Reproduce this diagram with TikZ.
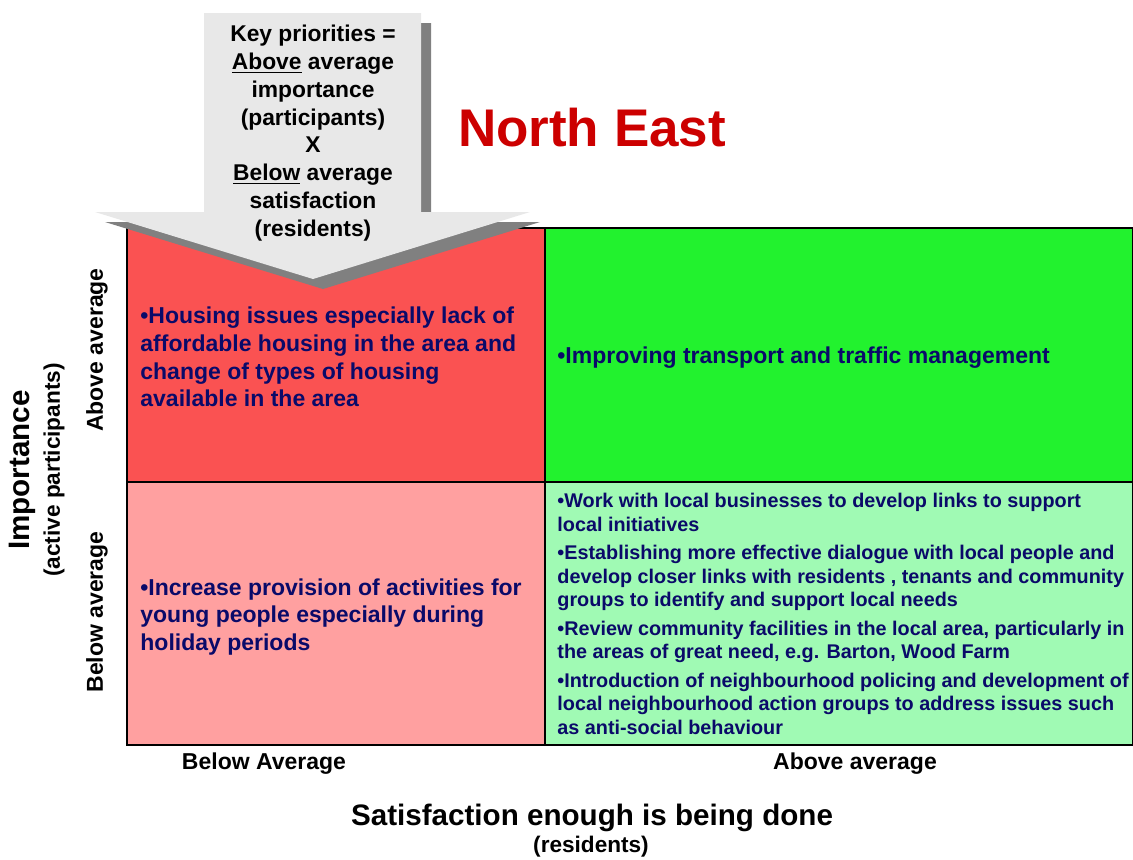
\documentclass[tikz,border=0pt]{standalone}
\usepackage{fontspec}
\setmainfont{Liberation Sans}
\usetikzlibrary{positioning}

\definecolor{hotred}{RGB}{250,82,82}
\definecolor{palered}{RGB}{255,160,160}
\definecolor{hotgreen}{RGB}{34,242,46}
\definecolor{palegreen}{RGB}{160,250,180}
\definecolor{itemblue}{RGB}{10,10,105}
\definecolor{titlered}{RGB}{204,0,0}
\definecolor{keygray}{RGB}{232,232,232}
\definecolor{keyshadow}{RGB}{128,128,128}

\tikzset {
  quad/.style = {
    draw = black,
    line width = 0.75pt,
    rectangle,
    inner sep = 0,
    outer sep = 0
  },
  % text inside a quadrant
  item/.style = {
    text = itemblue,
    align = left,
    anchor = west,
    inner sep = 0,
    font = \bfseries\fontsize{11.5}{13.8}\selectfont
  },
  smallitem/.style = {
    item,
    font = \bfseries\fontsize{9.9}{11.8}\selectfont
  },
  % text of the key arrow
  keytext/.style = {
    align = center,
    inner sep = 0,
    font = \bfseries\fontsize{11.4}{13.9}\selectfont
  },
  title/.style = {
    text = titlered,
    inner sep = 0,
    font = \bfseries\fontsize{26.5}{30}\selectfont
  },
  % axis labels
  axis/.style = {
    inner sep = 0,
    font = \bfseries\fontsize{11.5}{13.8}\selectfont
  },
  axistitle/.style = {
    axis,
    font = \bfseries\fontsize{14.8}{17}\selectfont
  },
  axisnote/.style = {
    axis,
    font = \bfseries\fontsize{11.3}{13}\selectfont
  },
  node distance = 0pt
}

\begin{document}
\begin{tikzpicture}[x=0.5pt, y=-0.5pt]
  \useasboundingbox (0,0) rectangle (1133,859);

  % the four quadrants
  \node[quad, fill=hotred, minimum width=209pt, minimum height=127pt,
    anchor=north west] (hilo) at (127,228) {};
  \node[quad, fill=hotgreen, minimum width=294pt, minimum height=127pt]
    (hihi) [right=of hilo] {};
  \node[quad, fill=palered, minimum width=209pt, minimum height=131.5pt]
    (lolo) [below=of hilo] {};
  \node[quad, fill=palegreen, minimum width=294pt, minimum height=131.5pt]
    (lohi) [below=of hihi] {};

  % key arrow with its shadow
  \fill[keyshadow] (214,23) -- (431,23) -- (431,222) -- (540,222)
    -- (323,289) -- (105,222) -- (214,222) -- cycle;
  \fill[keygray] (204,13) -- (421,13) -- (421,212) -- (530,212)
    -- (313,279) -- (95,212) -- (204,212) -- cycle;
  \node[keytext] (key) at (313,133) {Key priorities =\\
    \underline{Above} average\\ importance\\ (participants)\\ X\\
    \underline{Below} average\\ satisfaction\\ (residents)};

  \node[title] (region) at (592,128) {North East};

  \node[item] (hilo-text) at (140,357) {•Housing issues especially lack of\\
    affordable housing in the area and\\
    change of types of housing\\
    available in the area};
  \node[item] (hihi-text) at (557,358)
    {•Improving transport and traffic management};
  \node[item] (lolo-text) at (140,617) {•Increase provision of activities for\\
    young people especially during\\
    holiday periods};
  \node[smallitem] (lohi-text) at (557,614)
    {•Work with local businesses to develop links to support\\
    local initiatives\\[2.4pt]
    •Establishing more effective dialogue with local people and\\
    develop closer links with residents , tenants and community\\
    groups to identify and support local needs\\[2.4pt]
    •Review community facilities in the local area, particularly in\\
    the areas of great need, e.g. Barton, Wood Farm\\[2.4pt]
    •Introduction of neighbourhood policing and development of\\
    local neighbourhood action groups to address issues such\\
    as anti-social behaviour};

  % axes
  \node[axis, rotate=90] (imp-hi) at (97,350) {Above average};
  \node[axis, rotate=90] (imp-lo) at (97,612) {Below average};
  \node[axistitle, rotate=90] (imp) at (22,470) {Importance};
  \node[axisnote, rotate=90] (imp-note) at (54,470) {(active participants)};
  \node[axis] (sat-lo) at (264,764) {Below Average};
  \node[axis] (sat-hi) at (855,764) {Above average};
  \node[axistitle] (sat) at (592,818) {Satisfaction enough is being done};
  \node[axisnote] (sat-note) at (591,847) {(residents)};
\end{tikzpicture}
\end{document}
